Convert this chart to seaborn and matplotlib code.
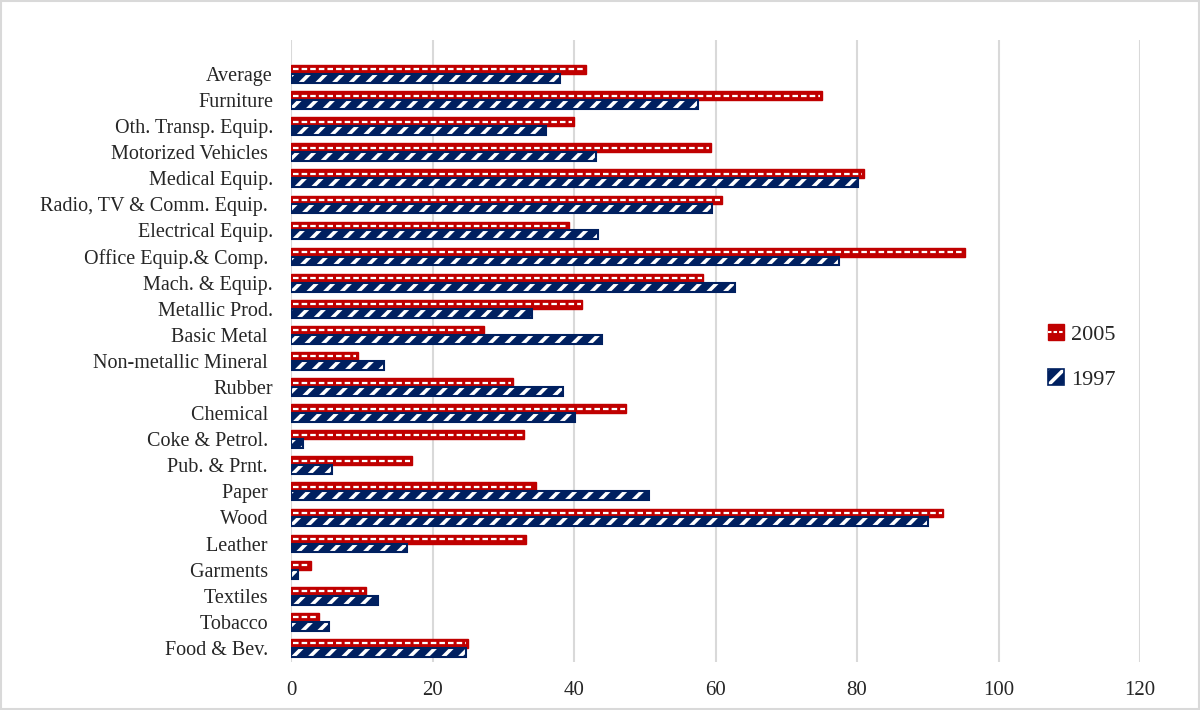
import matplotlib
matplotlib.use("Agg")
import matplotlib.pyplot as plt
import matplotlib.patches as mpatches
from matplotlib.lines import Line2D
from matplotlib.legend_handler import HandlerTuple
import pandas as pd
import seaborn as sns

categorias = ["Average", "Furniture", "Oth. Transp. Equip.", "Motorized Vehicles ",
              "Medical Equip.", "Radio, TV & Comm. Equip. ", "Electrical Equip.",
              "Office Equip.& Comp. ", "Mach. & Equip.", "Metallic Prod.", "Basic Metal ",
              "Non-metallic Mineral ", "Rubber", "Chemical ", "Coke & Petrol. ",
              "Pub. & Prnt. ", "Paper ", "Wood ", "Leather ", "Garments ", "Textiles ",
              "Tobacco ", "Food & Bev. "]
v2005 = [41.7, 75.0, 40.0, 59.4, 81.0, 60.9, 39.3, 95.2, 58.3, 41.2, 27.3,
         9.4, 31.4, 47.4, 33.0, 17.1, 34.6, 92.2, 33.2, 2.8, 10.6, 4.0, 25.0]
v1997 = [38.0, 57.5, 36.0, 43.1, 80.2, 59.5, 43.4, 77.5, 62.7, 34.0, 43.9,
         13.1, 38.4, 40.1, 1.7, 5.8, 50.6, 90.0, 16.4, 1.0, 12.3, 5.4, 24.7]
series = ["2005", "1997"]

ROJO = "#c00000"
AZUL = "#002060"

datos = pd.DataFrame({
    "sector": categorias * 2,
    "valor": v2005 + v1997,
    "anio": ["2005"] * len(categorias) + ["1997"] * len(categorias),
})

sns.set_style("white")
plt.rcParams["font.family"] = ["Liberation Serif", "DejaVu Serif"]
plt.rcParams["hatch.linewidth"] = 2.6
plt.rcParams["lines.scale_dashes"] = False

fig = plt.figure(figsize=(12, 7.1), dpi=100)
ax = fig.add_axes([0.2425, 1 - 662 / 710, 0.7075, (662 - 40) / 710])

sns.barplot(data=datos, y="sector", x="valor", hue="anio", hue_order=series,
            order=categorias, orient="h", width=0.68, ax=ax,
            palette={"2005": ROJO, "1997": AZUL}, legend=False)

DASH = (4.0, 2.2)

# 2005: rojo con guiones blancos; 1997: azul con rayas diagonales blancas
for p in ax.containers[0]:
    p.set_facecolor(ROJO)
    p.set_edgecolor(ROJO)
    p.set_linewidth(1.0)
    x0, y0, w, h = p.get_x(), p.get_y(), p.get_width(), p.get_height()
    ax.plot([x0 + 0.25, x0 + w - 0.25], [y0 + h / 2] * 2, color="white",
            lw=1.6, dashes=DASH, solid_capstyle="butt", dash_capstyle="butt")
for p in ax.containers[1]:
    p.set_facecolor(AZUL)
    p.set_edgecolor(AZUL)
    p.set_linewidth(1.5)
    p.set_hatch("//")
    p._hatch_color = (1, 1, 1, 1)

ax.set_xlim(0, 120)
ax.set_ylim(22.54, -1.30)
ax.set_xticks(range(0, 121, 20))
ax.grid(axis="x", color="#d9d9d9", linewidth=1.5)
ax.set_axisbelow(True)
for sp in ax.spines.values():
    sp.set_visible(False)
ax.tick_params(axis="y", length=0, labelsize=14.5, colors="#262626", pad=13)
ax.tick_params(axis="x", length=0, labelsize=15, colors="#262626", pad=14)
ax.set_xlabel("")
ax.set_ylabel("")

h05 = (mpatches.Patch(facecolor=ROJO, edgecolor=ROJO),
       Line2D([], [], color="white", lw=1.5, dashes=(2.5, 1.5)))
h97 = mpatches.Patch(facecolor=AZUL, edgecolor=AZUL, hatch="//", linewidth=1.2)
h97._hatch_color = (1, 1, 1, 1)
fig.legend(handles=[h05, h97], labels=series, loc="center left",
           bbox_to_anchor=(0.857, 0.497), frameon=False, fontsize=16,
           handlelength=0.7, handleheight=0.7, handletextpad=0.3, labelspacing=1.1,
           handler_map={tuple: HandlerTuple(ndivide=1)})

borde = mpatches.Rectangle((0.001, 0.002), 0.998, 0.996, transform=fig.transFigure,
                           fill=False, edgecolor="#d9d9d9", linewidth=1.5)
fig.patches.append(borde)

fig.savefig("out.png", dpi=100, facecolor="white")
